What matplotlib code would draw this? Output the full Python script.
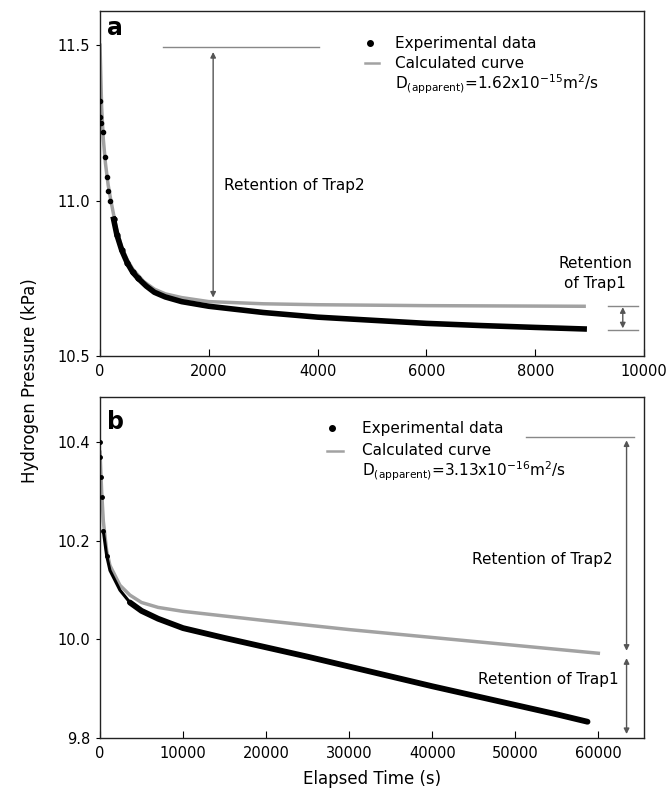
import matplotlib
matplotlib.use("Agg")
import matplotlib.pyplot as plt

plt.rcParams['font.family'] = ['DejaVu Sans']
plt.rcParams['mathtext.fontset'] = 'dejavusans'

# ---------------- Panel a data ----------------
a_exp_t = [0, 0, 20, 55, 90, 130, 150, 185, 250, 310, 400, 500, 600, 700, 850, 1000,
           1200, 1500, 2000, 2500, 3000, 4000, 5000, 6000, 7000, 8000, 8900]
a_exp_p = [11.32, 11.27, 11.25, 11.22, 11.14, 11.075, 11.03, 11.00, 10.94, 10.89, 10.84,
           10.80, 10.77, 10.75, 10.725, 10.705, 10.69, 10.675, 10.66, 10.65, 10.64,
           10.625, 10.615, 10.605, 10.598, 10.592, 10.587]
a_calc_t = [0, 30, 60, 100, 150, 200, 300, 400, 500, 600, 800, 1000, 1200, 1500, 2000,
            3000, 4000, 6000, 8900]
a_calc_p = [11.5, 11.30, 11.20, 11.12, 11.05, 11.0, 10.91, 10.85, 10.81, 10.78, 10.74,
            10.715, 10.70, 10.688, 10.675, 10.668, 10.665, 10.662, 10.66]

# ---------------- Panel b data ----------------
b_exp_t = [0, 0, 100, 200, 400, 800, 1200, 2400, 3600, 5000, 7000, 10000, 15000, 20000,
           25000, 30000, 35000, 40000, 45000, 50000, 55000, 58700]
b_exp_p = [10.40, 10.37, 10.33, 10.29, 10.22, 10.17, 10.14, 10.10, 10.075, 10.058, 10.042,
           10.023, 10.003, 9.984, 9.965, 9.945, 9.925, 9.905, 9.886, 9.867, 9.848, 9.833]
b_calc_t = [0, 200, 400, 800, 1200, 2400, 3600, 5000, 7000, 10000, 20000, 30000, 40000,
            50000, 60000]
b_calc_p = [10.38, 10.30, 10.24, 10.18, 10.15, 10.11, 10.09, 10.075, 10.065, 10.057,
            10.038, 10.020, 10.004, 9.988, 9.972]

a_xticks = [0, 2000, 4000, 6000, 8000, 10000]
a_yticks = [10.5, 11.0, 11.5]
b_xticks = [0, 10000, 20000, 30000, 40000, 50000, 60000]
b_yticks = [9.8, 10.0, 10.2, 10.4]

GRAY = '#a2a2a2'
fs_tick = 10.5
fs_txt = 11

fig = plt.figure(figsize=(6.67, 7.93), dpi=100)
W, H = 667, 793
axa = fig.add_axes([100 / W, 1 - 356 / H, 544 / W, 345 / H])
axb = fig.add_axes([100 / W, 1 - 738 / H, 544 / W, 341 / H])


def style(ax, xt, yt, xlim, ylim, yfmt):
    ax.set_xlim(*xlim)
    ax.set_ylim(*ylim)
    ax.set_xticks(xt)
    ax.set_yticks(yt)
    ax.set_yticklabels([yfmt.format(v) for v in yt])
    ax.set_xticklabels([str(v) for v in xt])
    ax.tick_params(axis='x', direction='in', length=5, labelsize=fs_tick, pad=6)
    ax.tick_params(axis='y', direction='out', length=3, labelsize=fs_tick, pad=4)
    for s in ax.spines.values():
        s.set_linewidth(1.0)
        s.set_color('#222222')


def arrow(ax, x0, y0, x1, y1):
    ax.annotate('', xy=(x1, y1), xytext=(x0, y0),
                arrowprops=dict(arrowstyle='<|-|>', color='#555555', lw=1.0,
                                mutation_scale=8, shrinkA=0, shrinkB=0))


# ---------- Panel a ----------
axa.plot(a_calc_t, a_calc_p, color=GRAY, lw=2.5, zorder=2)
axa.plot(a_exp_t[:9], a_exp_p[:9], 'o', color='black', ms=3, zorder=3)
axa.plot(a_exp_t[8:], a_exp_p[8:], '-', color='black', lw=4, zorder=3)
axa.plot(a_exp_t[8:14], a_exp_p[8:14], 'o', color='black', ms=3.5, zorder=3)
style(axa, a_xticks, a_yticks, (0, 10000), (10.5, 11.61), '{:.1f}')

axa.text(0.012, 0.985, 'a', transform=axa.transAxes, fontsize=17, fontweight='bold',
         va='top', ha='left')
# legend
axa.plot([0.496], [0.907], 'o', color='black', ms=4, transform=axa.transAxes)
axa.text(0.542, 0.907, 'Experimental data', transform=axa.transAxes, fontsize=fs_txt,
         va='center', ha='left')
axa.plot([0.488, 0.512], [0.849, 0.849], color=GRAY, lw=1.8, transform=axa.transAxes)
axa.text(0.542, 0.849, 'Calculated curve', transform=axa.transAxes, fontsize=fs_txt,
         va='center', ha='left')
axa.text(0.542, 0.788, r'D$\mathregular{_{(apparent)}}$=1.62x10$^{-15}$m$^{2}$/s',
         transform=axa.transAxes, fontsize=fs_txt, va='center', ha='left')
# Trap2
axa.plot([1160, 4030], [11.494, 11.494], color='#888888', lw=1.0)
arrow(axa, 2080, 11.478, 2080, 10.688)
axa.text(2280, 11.047, 'Retention of Trap2', fontsize=fs_txt, va='center', ha='left')
# Trap1
axa.plot([9340, 9890], [10.661, 10.661], color='#888888', lw=1.0, clip_on=False)
axa.plot([9340, 9890], [10.585, 10.585], color='#888888', lw=1.0, clip_on=False)
arrow(axa, 9610, 10.657, 9610, 10.589)
axa.text(9100, 10.765, 'Retention\nof Trap1', fontsize=fs_txt, va='center', ha='center',
         linespacing=1.4)

# ---------- Panel b ----------
axb.plot(b_calc_t, b_calc_p, color=GRAY, lw=2.5, zorder=2)
axb.plot(b_exp_t[:6], b_exp_p[:6], 'o', color='black', ms=2.5, zorder=3)
axb.plot(b_exp_t[4:10], b_exp_p[4:10], '-', color='black', lw=2.2, zorder=3)
axb.plot(b_exp_t[8:], b_exp_p[8:], '-', color='black', lw=4.2, zorder=3,
         solid_capstyle='round')
style(axb, b_xticks, b_yticks, (0, 65500), (9.8, 10.492), '{:.1f}')

axb.text(0.012, 0.962, 'b', transform=axb.transAxes, fontsize=17, fontweight='bold',
         va='top', ha='left')
axb.plot([0.426], [0.909], 'o', color='black', ms=4, transform=axb.transAxes)
axb.text(0.482, 0.909, 'Experimental data', transform=axb.transAxes, fontsize=fs_txt,
         va='center', ha='left')
axb.plot([0.417, 0.447], [0.842, 0.842], color=GRAY, lw=1.8, transform=axb.transAxes)
axb.text(0.482, 0.842, 'Calculated curve', transform=axb.transAxes, fontsize=fs_txt,
         va='center', ha='left')
axb.text(0.482, 0.783, r'D$\mathregular{_{(apparent)}}$=3.13x10$^{-16}$m$^{2}$/s',
         transform=axb.transAxes, fontsize=fs_txt, va='center', ha='left')
# Trap2
axb.plot([51300, 64300], [10.41, 10.41], color='#888888', lw=1.0)
arrow(axb, 63400, 10.404, 63400, 9.977)
axb.text(61700, 10.162, 'Retention of Trap2', fontsize=fs_txt, va='center', ha='right')
# Trap1
arrow(axb, 63400, 9.962, 63400, 9.808)
axb.text(62450, 9.918, 'Retention of Trap1', fontsize=fs_txt, va='center', ha='right')

axb.set_xlabel('Elapsed Time (s)', fontsize=12, labelpad=6)
fig.text(30 / W, 1 - 381 / H, 'Hydrogen Pressure (kPa)', rotation=90, fontsize=12,
         va='center', ha='center')

fig.savefig('out.png', dpi=100)
